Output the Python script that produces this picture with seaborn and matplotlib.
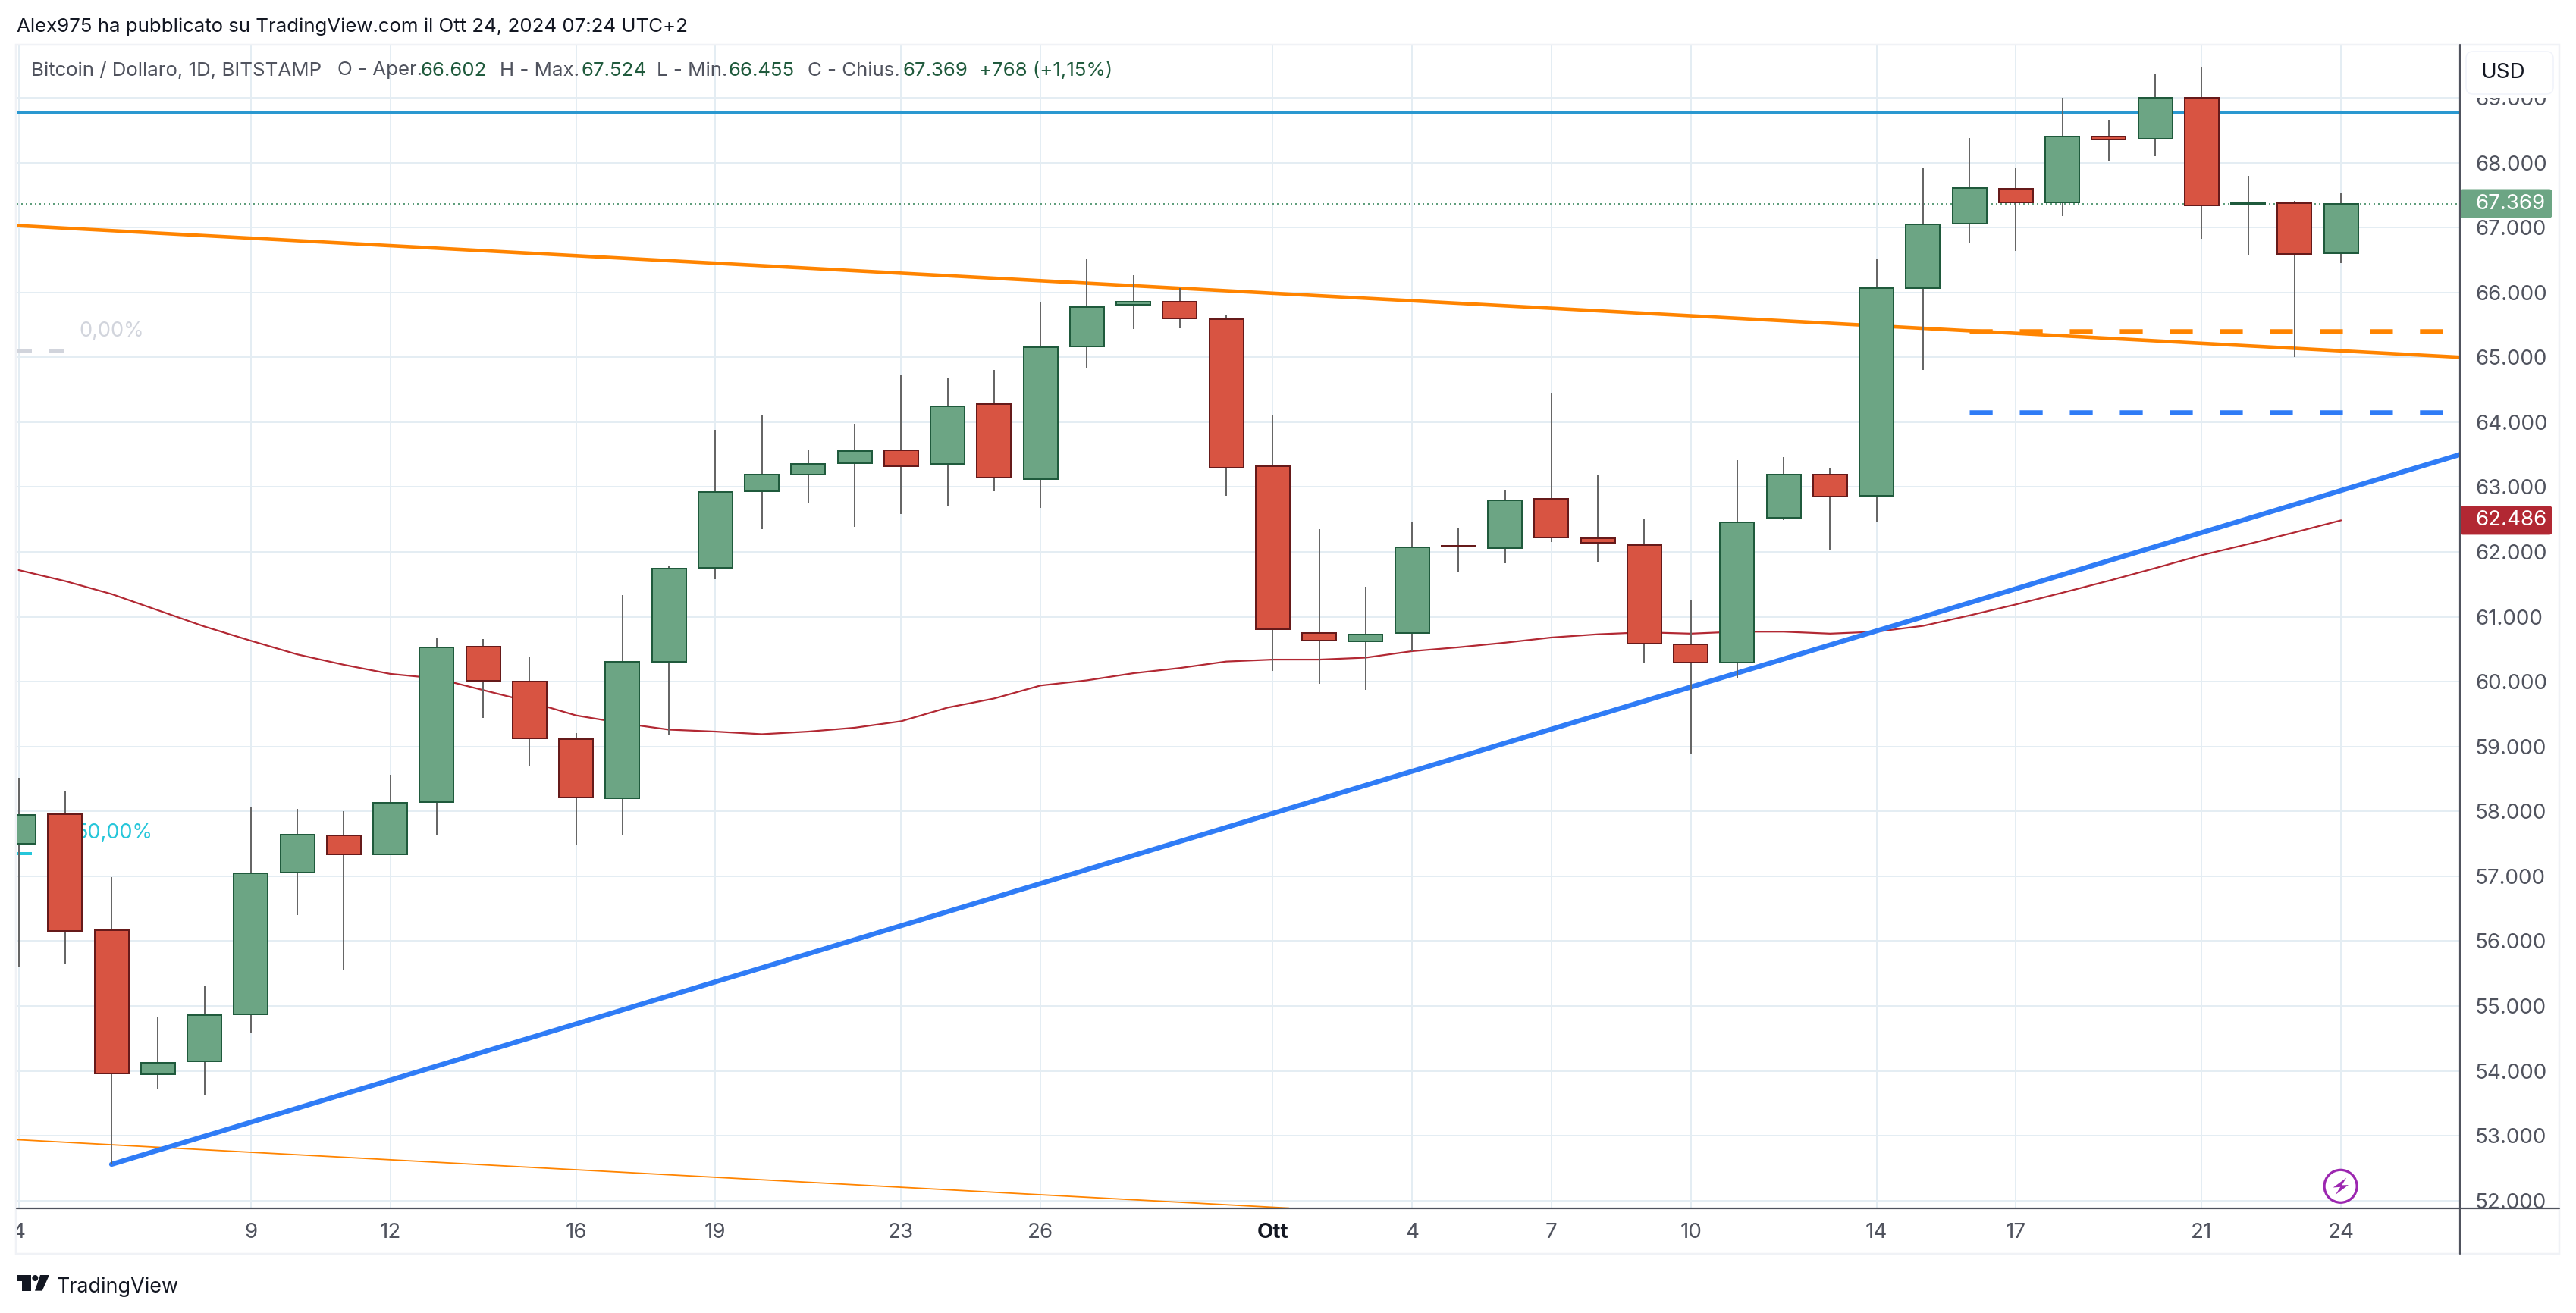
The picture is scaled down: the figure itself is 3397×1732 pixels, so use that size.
import numpy as np
import pandas as pd
import seaborn as sns
import matplotlib.pyplot as plt
from matplotlib.patches import Rectangle, FancyBboxPatch, Polygon, Circle

# daily candles, day 0 = 4 Sep 2024, prices in thousands of USD
opens = [57.50, 57.96, 56.17, 53.95, 54.15, 54.87, 57.06, 57.63, 57.34, 58.14, 60.54, 60.00, 59.11,
         58.20, 60.31, 61.76, 62.94, 63.19, 63.37, 63.56, 63.35, 64.28, 63.12, 65.17, 65.81, 65.86,
         65.59, 63.32, 60.75, 60.62, 60.75, 62.09, 62.06, 62.82, 62.21, 62.11, 60.58, 60.29, 62.52,
         63.19, 62.86, 66.07, 67.06, 67.60, 67.39, 68.40, 68.37, 69.00, 67.365, 67.37, 66.602]
highs = [58.52, 58.32, 56.99, 54.84, 55.30, 58.07, 58.04, 58.00, 58.56, 60.67, 60.66, 60.39, 59.21,
         61.33, 61.79, 63.88, 64.11, 63.58, 63.98, 64.72, 64.67, 64.80, 65.85, 66.51, 66.26, 66.07,
         65.64, 64.12, 62.35, 61.46, 62.47, 62.36, 62.96, 64.45, 63.18, 62.51, 61.25, 63.41, 63.46,
         63.28, 66.51, 67.92, 68.38, 67.92, 69.00, 68.66, 69.36, 69.48, 67.79, 67.41, 67.524]
lows = [55.61, 55.65, 52.56, 53.72, 53.63, 54.59, 56.40, 55.55, 57.33, 57.64, 59.44, 58.70, 57.49,
        57.63, 59.18, 61.58, 62.35, 62.76, 62.38, 62.58, 62.71, 62.94, 62.68, 64.84, 65.44, 65.45,
        62.86, 60.17, 59.97, 59.87, 60.47, 61.70, 61.83, 62.15, 61.84, 60.29, 58.89, 60.05, 62.49,
        62.04, 62.45, 64.81, 66.75, 66.64, 67.18, 68.02, 68.10, 66.82, 66.57, 65.00, 66.455]
closes = [57.94, 56.16, 53.96, 54.13, 54.86, 57.04, 57.64, 57.34, 58.13, 60.53, 60.01, 59.13, 58.21,
          60.30, 61.74, 62.92, 63.19, 63.35, 63.55, 63.32, 64.24, 63.15, 65.16, 65.77, 65.86, 65.60,
          63.30, 60.81, 60.63, 60.73, 62.07, 62.08, 62.80, 62.22, 62.14, 60.59, 60.29, 62.45, 63.19,
          62.85, 66.07, 67.05, 67.61, 67.39, 68.40, 68.36, 69.00, 67.34, 67.375, 66.59, 67.369]
# moving average, one value per day
ma_values = [61.72, 61.55, 61.35, 61.10, 60.85, 60.63, 60.42, 60.26, 60.12, 60.05, 59.87, 59.69, 59.48,
             59.36, 59.26, 59.23, 59.19, 59.23, 59.29, 59.39, 59.60, 59.74, 59.94, 60.02, 60.13, 60.21,
             60.31, 60.34, 60.34, 60.37, 60.47, 60.53, 60.60, 60.68, 60.73, 60.76, 60.74, 60.77, 60.77,
             60.74, 60.77, 60.86, 61.02, 61.19, 61.37, 61.555, 61.75, 61.95, 62.12, 62.30, 62.486]

# drawings: (day, price)
upper_trend_x, upper_trend_y = [-0.04, 52.56], [67.03, 65.00]
lower_trend_x, lower_trend_y = [-0.04, 27.35], [52.94, 51.885]
blue_trend_x, blue_trend_y = [2.0, 52.56], [52.56, 63.50]
resistance = 68.76
dash_days = [42.0, 52.2]
dash_orange, dash_blue = 65.40, 64.15
fib_days = [-0.04, 1.0]
fib_0, fib_50 = 65.10, 57.35
last_close, last_ma = 67.369, 62.486

x_tick_days = [0, 5, 8, 12, 15, 19, 22, 27, 30, 33, 36, 40, 43, 47, 50]
x_tick_labels = ['4', '9', '12', '16', '19', '23', '26', 'Ott', '4', '7', '10', '14', '17', '21', '24']
y_ticks = list(range(52, 70))

legend_text = ['Bitcoin / Dollaro, 1D, BITSTAMP', 'O - Aper.', '66.602', 'H - Max.', '67.524',
               'L - Min.', '66.455', 'C - Chius.', '67.369', '+768 (+1,15%)']
legend_left = [41, 445, 555, 659, 766, 866, 961, 1065, 1190, 1291]

W, H = 3397, 1732
AX_L, AX_R, AX_T, AX_B = 22, 3244, 59, 1594
GREEN, GREEN_EDGE = '#6ca584', '#1f5a3c'
RED, RED_EDGE = '#d85442', '#661a1a'
GREY_TEXT = '#50535e'
GRID = '#e4edf3'
MA_RED = '#b22833'
BLUE = '#2f7cf6'
ORANGE = '#ff8400'
px = 0.72  # one pixel in points at dpi 100

sns.set_theme(style='white')
plt.rcParams['font.family'] = ['Inter', 'DejaVu Sans']

fig = plt.figure(figsize=(W / 100, H / 100), dpi=100, facecolor='white')
ax = fig.add_axes([AX_L / W, 1 - AX_B / H, (AX_R - AX_L) / W, (AX_B - AX_T) / H])
days = np.arange(len(opens))


def trend(xs, ys, color, width, z=2, **kw):
    sns.lineplot(x=xs, y=ys, ax=ax, color=color, linewidth=width * px, zorder=z,
                 estimator=None, errorbar=None, legend=False, **kw)


candles = pd.DataFrame({'day': days, 'o': opens, 'h': highs, 'l': lows, 'c': closes})
up = candles[candles.c >= candles.o]
down = candles[candles.c < candles.o]

trend(days, ma_values, MA_RED, 2.2)
trend(upper_trend_x, upper_trend_y, ORANGE, 4.6)
trend(lower_trend_x, lower_trend_y, ORANGE, 1.8)
trend(blue_trend_x, blue_trend_y, BLUE, 6.5, solid_capstyle='round')
trend([-0.04, 52.56], [resistance, resistance], '#2a98d0', 4)
trend([-0.04, 52.56], [last_close, last_close], '#5f9e7c', 2, linestyle=(0, (1, 2)))
trend(dash_days, [dash_orange, dash_orange], ORANGE, 6.5, linestyle=(0, (4.65, 5.5)), dash_capstyle='butt')
trend(dash_days, [dash_blue, dash_blue], BLUE, 6.5, linestyle=(0, (4.65, 5.5)), dash_capstyle='butt')
trend(fib_days, [fib_0, fib_0], '#d1d4dc', 4, linestyle=(0, (5, 5.75)), dash_capstyle='butt')
trend(fib_days, [fib_50, fib_50], '#26c6da', 4, linestyle=(0, (5, 5.75)), dash_capstyle='butt')
ax.text(1.31, 65.40, '0,00%', color='#d1d4dc', fontsize=19.5, va='center', zorder=3)
ax.text(2.9, 57.66, '50,00%', color='#26c6da', fontsize=19.5, va='center', ha='right', zorder=3)

ax.vlines(days, lows, highs, color='#666666', linewidth=2 * px, zorder=4)
ax.bar(up.day, up.c - up.o, bottom=up.o, width=0.735, color=GREEN, edgecolor=GREEN_EDGE,
       linewidth=2 * px, zorder=5)
ax.bar(down.day, down.c - down.o, bottom=down.o, width=0.735, color=RED, edgecolor=RED_EDGE,
       linewidth=2 * px, zorder=5)

ax.set_xlim(-0.042, 52.56)
ax.set_ylim(51.881, 69.817)
ax.set_xlabel('')
ax.set_ylabel('')
ax.set_xticks(x_tick_days, x_tick_labels)
ax.set_yticks(y_ticks, [f'{v}.000' for v in y_ticks])
ax.yaxis.tick_right()
ax.tick_params(axis='y', length=0, pad=14.5, labelsize=20, labelcolor=GREY_TEXT)
ax.tick_params(axis='x', length=0, pad=14, labelsize=20, labelcolor=GREY_TEXT)
ax.set_axisbelow(True)
ax.grid(True, color=GRID, linewidth=2 * px)
sns.despine(ax=ax, left=True, right=True, top=True, bottom=True)
for lab in ax.get_xticklabels():
    if lab.get_text() == 'Ott':
        lab.set_fontweight('bold')
        lab.set_color('#131722')

# page furniture in pixel coordinates, above the chart
page = fig.add_axes([0, 0, 1, 1], zorder=10)
page.set_xlim(0, W)
page.set_ylim(H, 0)
page.axis('off')
page.patch.set_alpha(0)


def price_y(v):
    return AX_B - (v - 51.881) / (69.817 - 51.881) * (AX_B - AX_T)


page.add_patch(Rectangle((0, 1600), 21, 70, fc='white', ec='none'))
page.add_patch(Rectangle((3245, 1595), 130, 58, fc='white', ec='none'))
page.add_patch(Rectangle((3245, 59), 130, 70, fc='white', ec='none'))
page.add_patch(Rectangle((21, 59), 3375 - 21, 1654 - 59, fill=False, ec='#f0f2f6', lw=2.5 * px))
page.plot([AX_R, AX_R], [59, 1654], color=GREY_TEXT, lw=2.2 * px)
page.plot([22, 3375], [AX_B, AX_B], color=GREY_TEXT, lw=2.2 * px)

page.add_patch(FancyBboxPatch((3252, 68), 115, 56, boxstyle='round,pad=0,rounding_size=9',
                              fc='white', ec='#f0f3fa', lw=1.5 * px))
page.text(3272, 96, 'USD', color='#131722', fontsize=20, va='center')

for v, col in [(last_close, GREEN), (last_ma, MA_RED)]:
    y = price_y(v)
    page.add_patch(FancyBboxPatch((AX_R, y - 19), 3365.5 - AX_R, 38, boxstyle='round,pad=0,rounding_size=4',
                                  fc=col, ec='none'))
    page.text(3264, y, f'{v:.3f}', color='white', fontsize=20, va='center')

page.text(22, 35, 'Alex975 ha pubblicato su TradingView.com il Ott 24, 2024 07:24 UTC+2',
          color='#131722', fontsize=18.6, va='center')
for i, (txt, lx) in enumerate(zip(legend_text, legend_left)):
    col = '#1f5a3c' if i in (2, 4, 6, 8, 9) else GREY_TEXT
    page.text(lx, 93, txt, color=col, fontsize=18.6, va='center')

# TradingView logo and wordmark
logo = '#131722'
sx = lambda z: 10 + z / 3
sy = lambda z: 1660 + z / 3
page.add_patch(Polygon([(sx(37), sy(66)), (sx(92), sy(66)), (sx(92), sy(128)), (sx(58), sy(128)),
                        (sx(58), sy(90)), (sx(37), sy(90))], fc=logo, ec='none'))
page.add_patch(Circle((sx(109), sy(78)), 4, fc=logo, ec='none'))
page.add_patch(Polygon([(sx(129), sy(66)), (sx(165), sy(66)), (sx(137), sy(128)), (sx(108), sy(128))],
                       fc=logo, ec='none'))
page.text(75, 1705, 'TradingView', color=logo, fontsize=19.4, va='baseline')

# lightning badge
page.add_patch(Circle((3086.6, 1564.8), 21.5, fc='white', ec='#9c27b0', lw=3.2 * px))
bolt = [(773, 1042), (727, 1080), (752, 1078), (735, 1108), (780, 1070), (757, 1071)]
page.add_patch(Polygon([(2800 + a / 2.627, 1200 + b / 2.947) for a, b in bolt], fc='#9c27b0', ec='none'))

fig.savefig('out.png', dpi=100)
